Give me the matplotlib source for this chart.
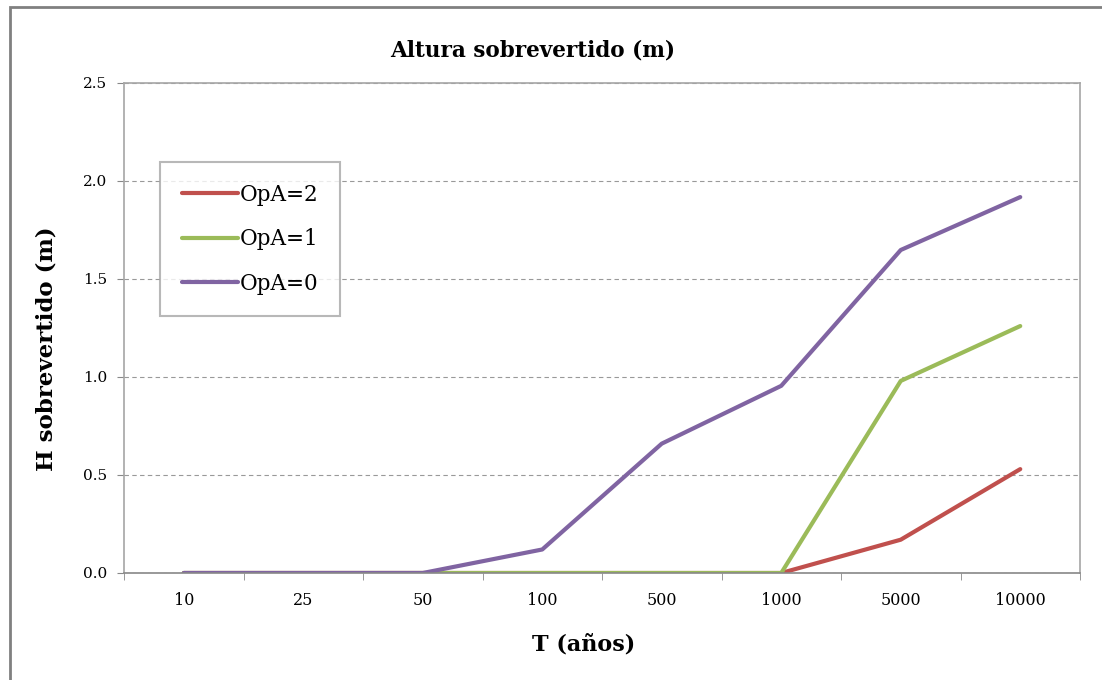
import numpy as np
import matplotlib
matplotlib.use("Agg")
import matplotlib.pyplot as plt
from matplotlib.patches import Rectangle

# datos
periodos = ["10", "25", "50", "100", "500", "1000", "5000", "10000"]
opa2 = [0, 0, 0, 0, 0, 0, 0.17, 0.53]
opa1 = [0, 0, 0, 0, 0, 0, 0.98, 1.26]
opa0 = [0, 0, 0, 0.12, 0.66, 0.955, 1.648, 1.918]

plt.rcParams["font.family"] = ["DejaVu Serif"]

fig = plt.figure(figsize=(11.02, 6.8), dpi=100)
ax = fig.add_axes([124/1102, 1-573/680, (1080-124)/1102, (573-83)/680])

x = np.arange(len(periodos))
ax.plot(x, opa2, color="#C0504D", lw=3, label="OpA=2", solid_capstyle="round")
ax.plot(x, opa1, color="#9BBB59", lw=3, label="OpA=1", solid_capstyle="round")
ax.plot(x, opa0, color="#8064A2", lw=3, label="OpA=0", solid_capstyle="round")

ax.set_xlim(-0.5, len(periodos)-0.5)
ax.set_ylim(0, 2.5)
ax.set_yticks(np.arange(0, 2.51, 0.5))
ax.set_yticklabels(["%.1f" % v for v in np.arange(0, 2.51, 0.5)], fontsize=11)
ax.set_xticks(x)
ax.set_xticklabels(periodos, fontsize=11.5)
ax.set_xticks(np.arange(-0.5, len(periodos), 1), minor=True)
ax.tick_params(axis="x", which="major", length=0, pad=14)
ax.tick_params(axis="x", which="minor", length=5, color="#888888")
ax.tick_params(axis="y", length=5, color="#888888", pad=7)

ax.yaxis.grid(True, linestyle=(0, (4, 3)), color="#999999", lw=0.8)
ax.set_axisbelow(True)
for s in ax.spines.values():
    s.set_color("#A6A6A6")
    s.set_linewidth(1.2)
ax.spines["bottom"].set_color("#888888")

fig.text(533/1102, 1-50/680, "Altura sobrevertido (m)", fontsize=15.5, fontweight="bold",
         ha="center", va="center")
fig.text(47/1102, 1-349/680, "H sobrevertido (m)", fontsize=16.5, fontweight="bold",
         rotation=90, ha="center", va="center")
fig.text(584/1102, 1-645/680, "T (años)", fontsize=16, fontweight="bold",
         ha="center", va="center")

leg = ax.legend(loc="upper left", bbox_to_anchor=(36/956, 411/490), fontsize=15.5,
                frameon=True, fancybox=False, handlelength=2.6, handletextpad=0.1,
                labelspacing=1.05, borderpad=1.0, borderaxespad=0)
leg.get_frame().set_edgecolor("#A6A6A6")
leg.get_frame().set_linewidth(1.5)

# marco exterior del gráfico
fig.add_artist(Rectangle((10/1102, -0.1), 1.2, 1.1-7/680, transform=fig.transFigure,
                         fill=False, edgecolor="#808080", lw=2))

fig.savefig("out.png", dpi=100)
